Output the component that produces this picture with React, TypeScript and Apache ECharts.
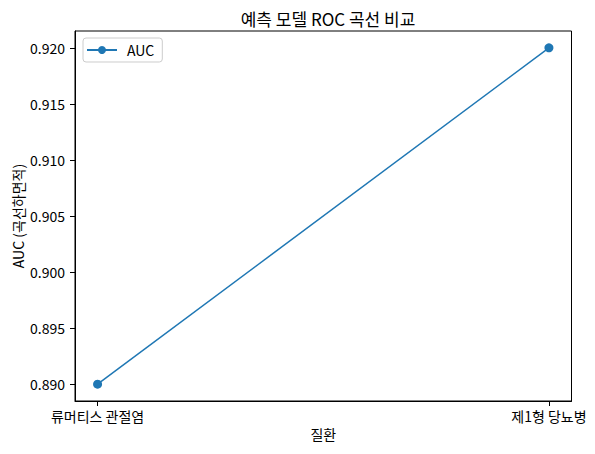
import React, { useEffect, useRef } from "react";
import * as echarts from "echarts";

// 질환별 AUC
const categories: string[] = ["류머티스 관절염", "제1형 당뇨병"];
const aucValues: number[] = [0.89, 0.92];
const yTicks: number[] = [0.89, 0.895, 0.9, 0.905, 0.91, 0.915, 0.92];

const FONT = "Noto Sans CJK KR";

const App: React.FC = () => {
  const chartRef = useRef<HTMLDivElement>(null);

  useEffect(() => {
    if (!chartRef.current) return;
    const myChart = echarts.init(chartRef.current, undefined, { renderer: "svg" });

    const option: any = {
      animation: false,
      backgroundColor: "#ffffff",
      textStyle: { fontFamily: FONT },
      title: {
        text: "예측 모델 ROC 곡선 비교",
        left: 323,
        top: 5,
        textAlign: "center",
        textStyle: { fontFamily: FONT, fontSize: 17, fontWeight: "normal", color: "#000" },
      },
      legend: {
        left: 83,
        top: 38,
        orient: "vertical",
        itemWidth: 30,
        itemHeight: 10,
        itemGap: 6,
        padding: [5, 8, 5, 3],
        borderColor: "#cccccc",
        borderWidth: 1,
        borderRadius: 3,
        textStyle: { fontFamily: FONT, fontSize: 14, color: "#000", padding: [0, 0, 0, 5] },
        data: ["AUC"],
      },
      grid: {
        left: 75,
        top: 31,
        right: 23.5,
        bottom: 53,
        outerBoundsMode: "none",
        containLabel: false,
        show: true,
        borderColor: "#000",
        borderWidth: 1,
        backgroundColor: "transparent",
      },
      xAxis: {
        type: "value",
        min: -0.05,
        max: 1.05,
        name: "질환",
        nameLocation: "middle",
        nameGap: 26,
        nameMoveOverlap: false,
        nameTextStyle: { fontFamily: FONT, fontSize: 14, color: "#000" },
        axisLine: { show: true, onZero: false, lineStyle: { color: "#000", width: 1 } },
        splitLine: { show: false },
        axisTick: {
          show: true,
          length: 5,
          customValues: categories.map((_, i) => i),
          lineStyle: { color: "#000" },
        },
        axisLabel: {
          customValues: categories.map((_, i) => i),
          formatter: (v: number) => categories[Math.round(v)] ?? "",
          margin: 8,
          fontFamily: FONT,
          fontSize: 14,
          color: "#000",
        },
      },
      yAxis: {
        type: "value",
        min: 0.8885,
        max: 0.9215,
        name: "AUC (곡선하면적)",
        nameLocation: "middle",
        nameRotate: 90,
        nameGap: 50,
        nameMoveOverlap: false,
        nameTextStyle: { fontFamily: FONT, fontSize: 14, color: "#000" },
        axisLine: { show: true, onZero: false, lineStyle: { color: "#000", width: 1 } },
        splitLine: { show: false },
        axisTick: {
          show: true,
          length: 5,
          customValues: yTicks,
          lineStyle: { color: "#000" },
        },
        axisLabel: {
          customValues: yTicks,
          formatter: (v: number) => v.toFixed(3),
          margin: 10,
          fontFamily: FONT,
          fontSize: 14,
          color: "#000",
        },
      },
      series: [
        {
          name: "AUC",
          type: "line",
          data: aucValues.map((v, i) => [i, v]),
          symbol: "circle",
          symbolSize: 9,
          color: "#1f77b4",
          lineStyle: { width: 1.5, color: "#1f77b4" },
          itemStyle: { color: "#1f77b4" },
        },
      ],
    };

    myChart.setOption(option);

    return () => {
      myChart.dispose();
    };
  }, []);

  return (
    <div
      ref={chartRef}
      style={{ position: "fixed", left: 0, top: 0, width: "595px", height: "454px" }}
    />
  );
};

export default App;
